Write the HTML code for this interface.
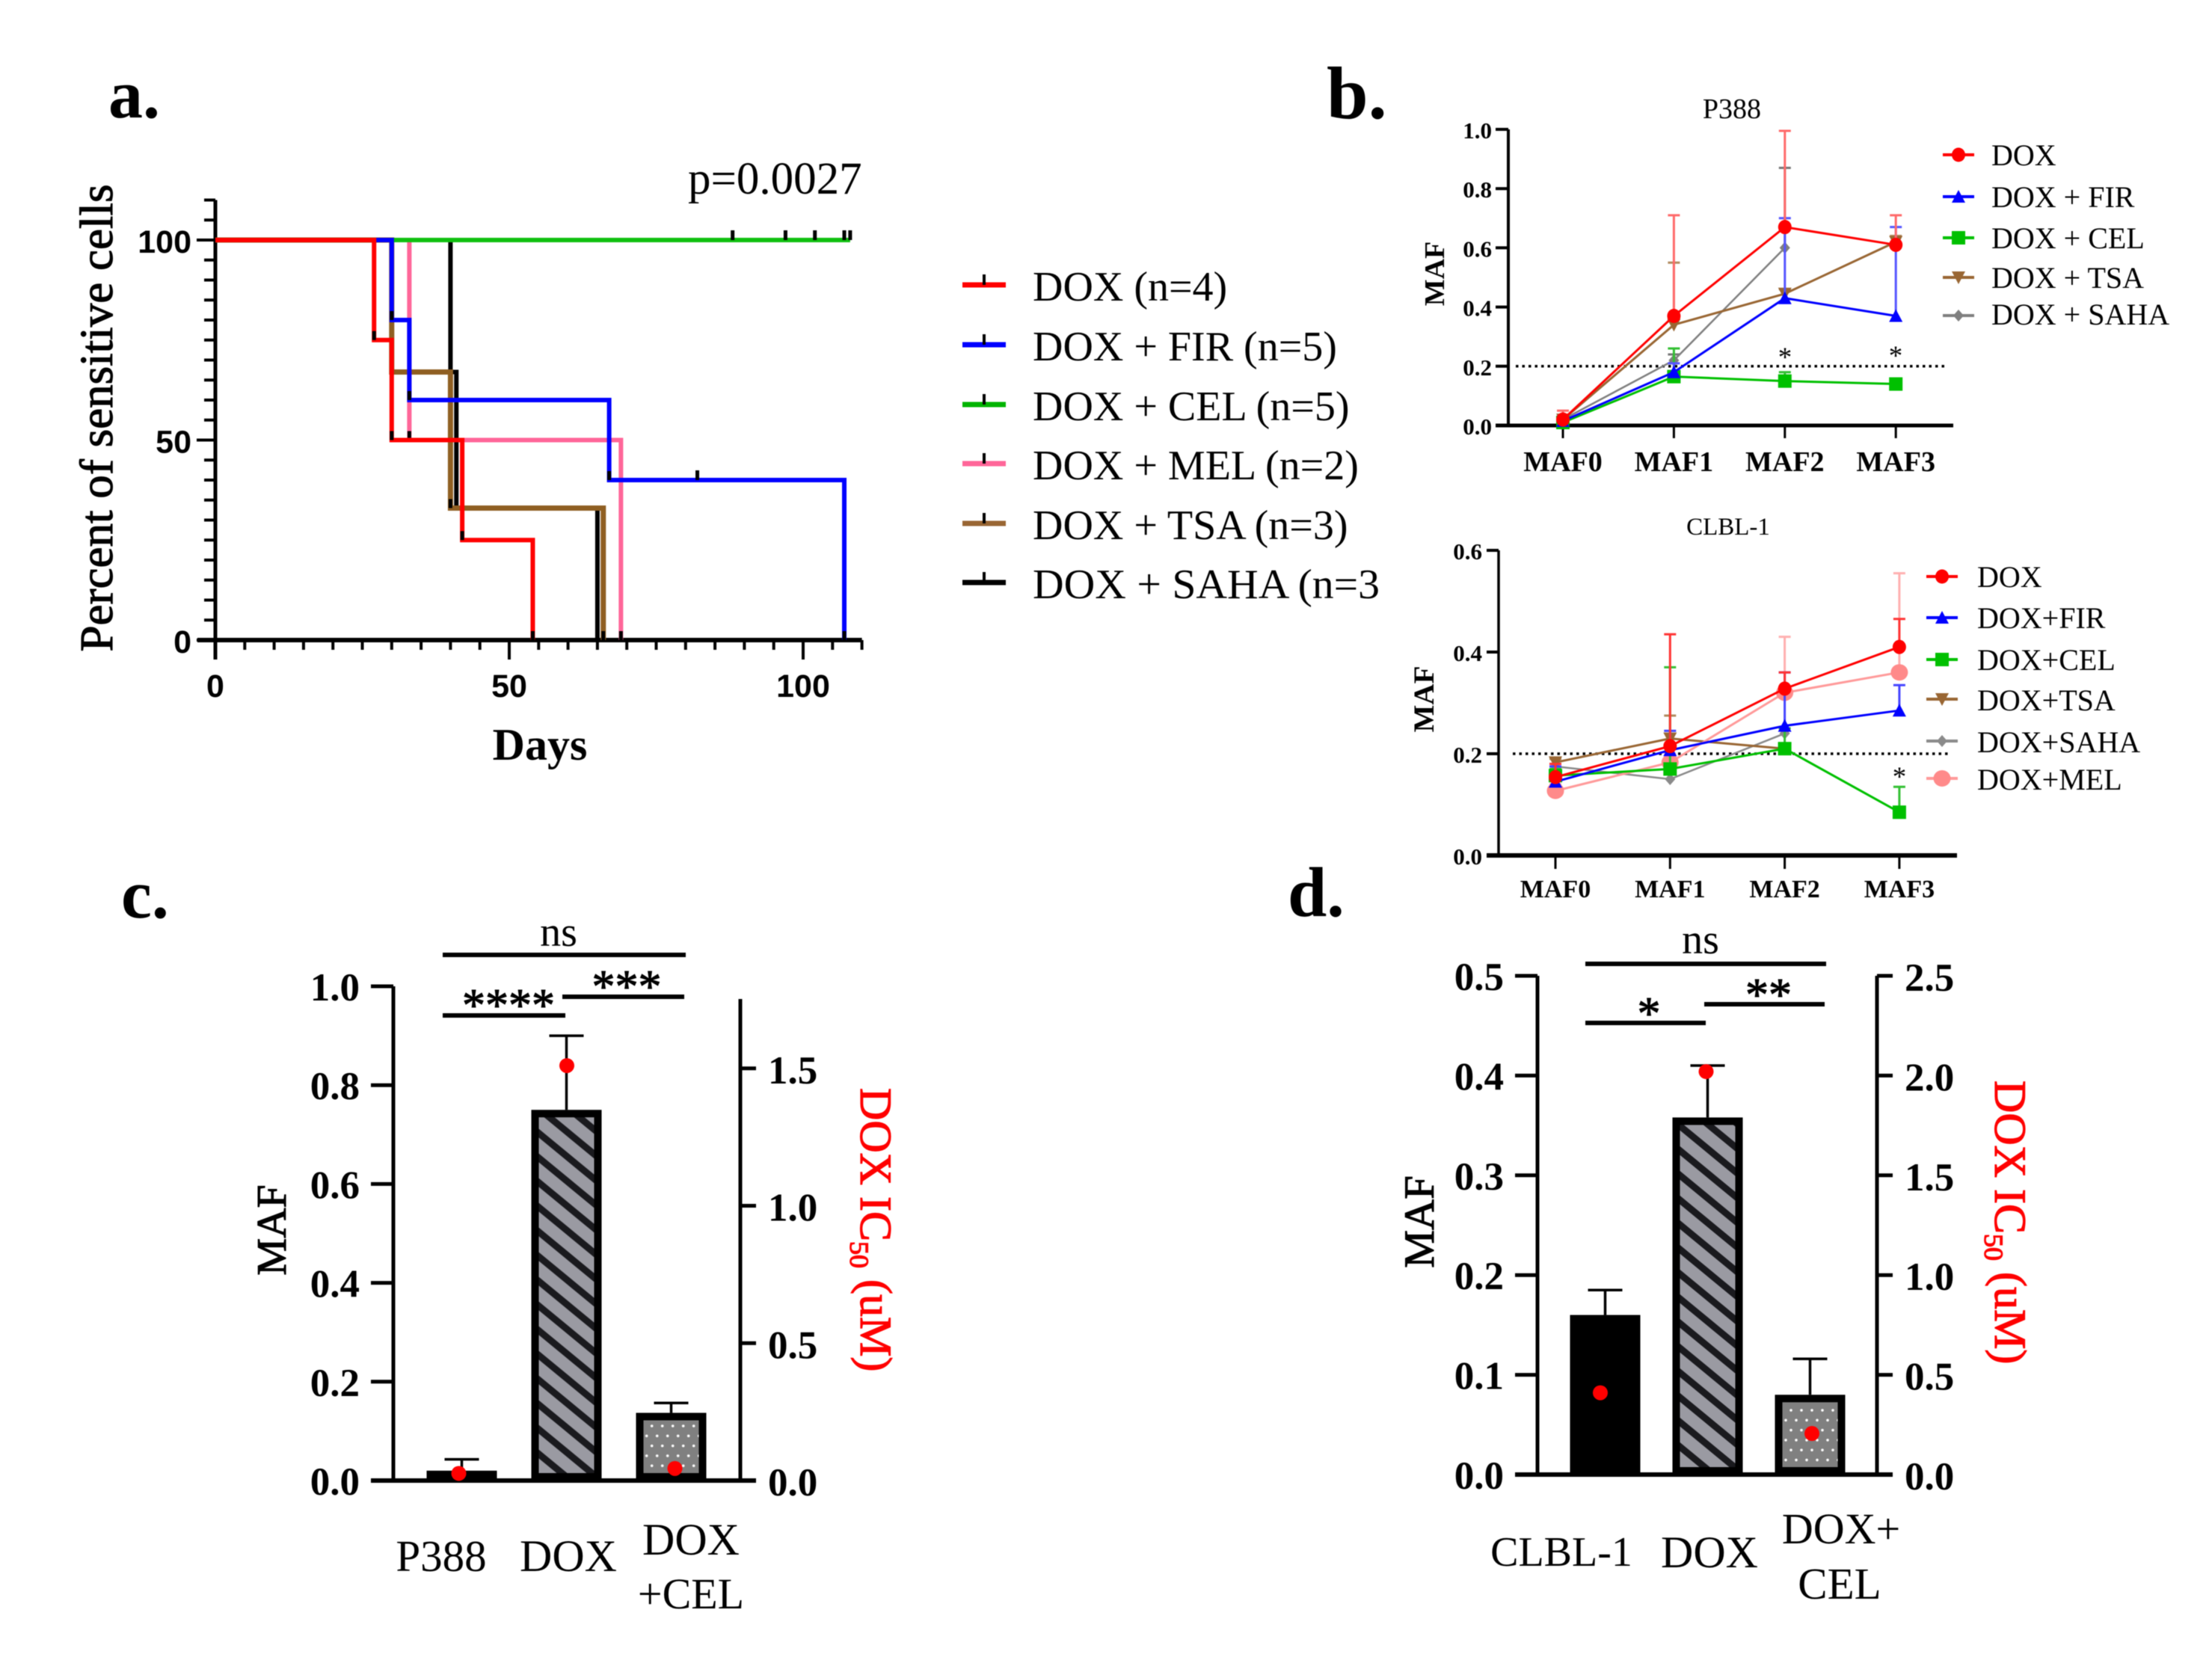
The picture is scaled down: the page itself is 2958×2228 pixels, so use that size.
<!DOCTYPE html>
<html lang="en">
<head>
<meta charset="utf-8">
<title>Multi-panel MAF chart</title>
<style>
html,body{margin:0;padding:0;background:#fff;}
svg{display:block;filter:blur(0.6px);}
text{font-family:"Liberation Serif",serif;fill:#000;}
.sans{font-family:"Liberation Sans",sans-serif;}
.b{font-weight:bold;}
.sb{stroke:#000;stroke-width:1.1px;}
.red{fill:#ff0000;stroke:#ff0000;stroke-width:1.2px;}
</style>
</head>
<body>
<svg id="fig" xmlns="http://www.w3.org/2000/svg" width="2958" height="2228" viewBox="0 0 2958 2228">
  <defs>
    <pattern id="hatchC" patternUnits="userSpaceOnUse" width="40" height="33" patternTransform="translate(722,1516.7)">
      <rect width="40" height="33" fill="#9a9aa2"/>
      <path d="M-10,-8.25 L50,41.25 M-10,24.75 L10,41.25 M30,-8.25 L50,8.25" stroke="#1a1a1e" stroke-width="9"/>
    </pattern>
    <pattern id="hatchD" patternUnits="userSpaceOnUse" width="40" height="33" patternTransform="translate(2248,1507)">
      <rect width="40" height="33" fill="#9a9aa2"/>
      <path d="M-10,-8.25 L50,41.25 M-10,24.75 L10,41.25 M30,-8.25 L50,8.25" stroke="#1a1a1e" stroke-width="9"/>
    </pattern>
    <pattern id="dotsC" patternUnits="userSpaceOnUse" width="14" height="26.6" patternTransform="translate(868.2,1903.5)">
      <rect width="14" height="26.6" fill="#808080"/>
      <circle cx="3.5" cy="3.5" r="1.8" fill="#fff"/>
      <circle cx="10.5" cy="16.8" r="1.8" fill="#fff"/>
    </pattern>
    <pattern id="dotsD" patternUnits="userSpaceOnUse" width="14" height="26.6" patternTransform="translate(2391.5,1882.5)">
      <rect width="14" height="26.6" fill="#808080"/>
      <circle cx="3.5" cy="3.5" r="1.8" fill="#fff"/>
      <circle cx="10.5" cy="16.8" r="1.8" fill="#fff"/>
    </pattern>
  </defs>
  <rect width="2958" height="2228" fill="#fff"/>

  <text class="b" x="145" y="157" font-size="92">a.</text>
  <text class="b" x="1774" y="158" font-size="100">b.</text>
  <text class="b" x="162" y="1227" font-size="92">c.</text>
  <text class="b" x="1722" y="1225" font-size="94">d.</text>

  <g id="panelA">
    <text x="920" y="259" font-size="61">p=0.0027</text>
    <text class="b" x="722" y="1016" font-size="60" text-anchor="middle">Days</text>
    <text class="sb" transform="translate(150,559) rotate(-90)" font-size="62" text-anchor="middle" textLength="625" lengthAdjust="spacingAndGlyphs">Percent of sensitive cells</text>
  </g>

  <g>
    <g>
      <line x1="1287" x2="1345" y1="381" y2="381" stroke="#ff0000" stroke-width="7"/><line x1="1316" x2="1316" y1="367" y2="381" stroke="#000" stroke-width="4"/>
      <text x="1381" y="402" font-size="56">DOX (n=4)</text>
    </g>
    <g>
      <line x1="1287" x2="1345" y1="461" y2="461" stroke="#0000ff" stroke-width="7"/><line x1="1316" x2="1316" y1="447" y2="461" stroke="#000" stroke-width="4"/>
      <text x="1381" y="482" font-size="56">DOX + FIR (n=5)</text>
    </g>
    <g>
      <line x1="1287" x2="1345" y1="541" y2="541" stroke="#00b400" stroke-width="7"/><line x1="1316" x2="1316" y1="527" y2="541" stroke="#000" stroke-width="4"/>
      <text x="1381" y="562" font-size="56">DOX + CEL (n=5)</text>
    </g>
    <g>
      <line x1="1287" x2="1345" y1="620" y2="620" stroke="#ff6699" stroke-width="7"/><line x1="1316" x2="1316" y1="606" y2="620" stroke="#000" stroke-width="4"/>
      <text x="1381" y="641" font-size="56">DOX + MEL (n=2)</text>
    </g>
    <g>
      <line x1="1287" x2="1345" y1="700" y2="700" stroke="#996633" stroke-width="7"/><line x1="1316" x2="1316" y1="686" y2="700" stroke="#000" stroke-width="4"/>
      <text x="1381" y="721" font-size="56">DOX + TSA (n=3)</text>
    </g>
    <g>
      <line x1="1287" x2="1345" y1="779" y2="779" stroke="#000" stroke-width="7"/><line x1="1316" x2="1316" y1="765" y2="779" stroke="#000" stroke-width="4"/>
      <text x="1381" y="800" font-size="56" textLength="464" lengthAdjust="spacingAndGlyphs">DOX + SAHA (n=3</text>
    </g>
  </g>

  <g id="panelB1">
    <text x="2316" y="158" font-size="38" text-anchor="middle" fill="#222">P388</text>
    <text class="b" transform="translate(1931,366) rotate(-90)" font-size="38" text-anchor="middle">MAF</text>
    <text x="2387" y="490" font-size="37" text-anchor="middle">*</text>
    <text x="2535" y="488" font-size="37" text-anchor="middle">*</text>
  </g>
  <g id="legendB1"></g>

  <g id="panelB2">
    <text x="2311" y="715" font-size="33" text-anchor="middle" fill="#222">CLBL-1</text>
    <text class="b" transform="translate(1917,935) rotate(-90)" font-size="39" text-anchor="middle">MAF</text>
    <text x="2540" y="1051" font-size="37" text-anchor="middle">*</text>
  </g>
  <g id="legendB2"></g>

  <g id="panelC">
    <text class="sb" transform="translate(382,1645) rotate(-90)" font-size="56" text-anchor="middle">MAF</text>
    <text class="red" transform="translate(1151,1455) rotate(90)" font-size="60">DOX IC<tspan dy="14" font-size="36">50</tspan><tspan dy="-14"> (uM)</tspan></text>
    <text x="590" y="2101" font-size="59" text-anchor="middle">P388</text>
    <text x="760" y="2101" font-size="60" text-anchor="middle">DOX</text>
    <text x="924" y="2079" font-size="60" text-anchor="middle">DOX</text>
    <text x="924" y="2151" font-size="58" text-anchor="middle">+CEL</text>
    <line x1="592" x2="917" y1="1277" y2="1277" stroke="#000" stroke-width="6"/>
    <text x="747" y="1265" font-size="56" text-anchor="middle">ns</text>
    <line x1="592" x2="756" y1="1358" y2="1358" stroke="#000" stroke-width="6"/>
    <text x="680" y="1365" font-size="62" text-anchor="middle" class="sb">****</text>
    <line x1="752" x2="915" y1="1333" y2="1333" stroke="#000" stroke-width="6"/>
    <text x="838" y="1340" font-size="62" text-anchor="middle" class="sb">***</text>
  </g>

  <g id="panelD">
    <text class="sb" transform="translate(1917,1634) rotate(-90)" font-size="57" text-anchor="middle">MAF</text>
    <text class="red" transform="translate(2668,1445) rotate(90)" font-size="60">DOX IC<tspan dy="14" font-size="36">50</tspan><tspan dy="-14"> (uM)</tspan></text>
    <text x="2088" y="2094" font-size="56" text-anchor="middle">CLBL-1</text>
    <text x="2286" y="2096" font-size="60" text-anchor="middle">DOX</text>
    <text x="2462" y="2064" font-size="58" text-anchor="middle">DOX+</text>
    <text x="2460" y="2138" font-size="59" text-anchor="middle">CEL</text>
    <line x1="2120" x2="2442" y1="1289" y2="1289" stroke="#000" stroke-width="6"/>
    <text x="2274" y="1275" font-size="56" text-anchor="middle">ns</text>
    <line x1="2120" x2="2281" y1="1368" y2="1368" stroke="#000" stroke-width="6"/>
    <text x="2205" y="1376" font-size="62" text-anchor="middle" class="sb">*</text>
    <line x1="2279" x2="2440" y1="1343" y2="1343" stroke="#000" stroke-width="6"/>
    <text x="2365" y="1351" font-size="62" text-anchor="middle" class="sb">**</text>
  </g>
</svg>

<script>
/* ---------- Panel a: survival data ---------- */
const survivalXLabels = [0, 50, 100];
const survivalYLabels = [0, 50, 100];
const sahaDays = [0, 40, 41, 65];
const sahaPct = [100, 67, 33, 0];
const tsaDays = [0, 30, 40, 66];
const tsaPct = [100, 67, 33, 0];
const melDays = [0, 33, 69];
const melPct = [100, 50, 0];
const celDays = [0, 108];
const celPct = [100, 100];
const firDays = [0, 30, 33, 67, 107];
const firPct = [100, 80, 60, 40, 0];
const doxDays = [0, 27, 30, 42, 54];
const doxPct = [100, 75, 50, 25, 0];
const celCensorDays = [88, 97, 102, 107, 108];
const celCensorPct = [100, 100, 100, 100, 100];
const firCensorDays = [82];
const firCensorPct = [40];

/* ---------- Panel b: P388 ---------- */
const mafCategories = ['MAF0', 'MAF1', 'MAF2', 'MAF3'];
const p388TickLabels = ['0.0', '0.2', '0.4', '0.6', '0.8', '1.0'];
const p388Dox = [0.02, 0.37, 0.67, 0.61];
const p388DoxErr = [0.05, 0.71, 0.995, 0.71];
const p388Fir = [0.015, 0.18, 0.43, 0.37];
const p388FirErr = [0.03, 0.21, 0.70, 0.67];
const p388Cel = [0.01, 0.165, 0.15, 0.14];
const p388CelErr = [0.02, 0.26, 0.18, 0.15];
const p388Tsa = [0.02, 0.34, 0.445, 0.62];
const p388TsaErr = [0.03, 0.55, 0.46, 0.64];
const p388Saha = [0.02, 0.22, 0.60, null];
const p388SahaErr = [0.03, 0.24, 0.87, null];

/* ---------- Panel b: CLBL-1 ---------- */
const clblTickLabels = ['0.0', '0.2', '0.4', '0.6'];
const clblDox = [0.154, 0.215, 0.328, 0.41];
const clblDoxErr = [0.18, 0.435, 0.36, 0.465];
const clblFir = [0.145, 0.207, 0.255, 0.285];
const clblFirErr = [0.175, 0.245, 0.36, 0.335];
const clblCel = [0.157, 0.17, 0.21, 0.085];
const clblCelErr = [0.17, 0.37, 0.25, 0.135];
const clblTsa = [0.183, 0.23, 0.21, null];
const clblTsaErr = [0.19, 0.275, 0.22, null];
const clblSaha = [0.175, 0.15, 0.24, null];
const clblSahaErr = [0.18, 0.16, 0.25, null];
const clblMel = [0.127, 0.183, 0.32, 0.36];
const clblMelErr = [0.14, 0.20, 0.43, 0.555];

/* ---------- Panel c ---------- */
const cMaf = [0.02, 0.75, 0.137];
const cMafErr = [0.043, 0.90, 0.157];
const cIc50 = [0.026, 1.51, 0.044];
const cLeftLabels = ['0.0', '0.2', '0.4', '0.6', '0.8', '1.0'];
const cRightLabels = ['0.0', '0.5', '1.0', '1.5'];

/* ---------- Panel d ---------- */
const dMaf = [0.16, 0.358, 0.08];
const dMafErr = [0.185, 0.41, 0.116];
const dIc50 = [0.41, 2.02, 0.206];
const dLeftLabels = ['0.0', '0.1', '0.2', '0.3', '0.4', '0.5'];
const dRightLabels = ['0.0', '0.5', '1.0', '1.5', '2.0', '2.5'];

const NS = 'http://www.w3.org/2000/svg';
function mk(tag, attrs, parent, txt) {
  const e = document.createElementNS(NS, tag);
  for (const k in attrs) e.setAttribute(k, attrs[k]);
  if (txt !== undefined) e.textContent = txt;
  parent.appendChild(e);
  return e;
}
function axisLine(parent, x1, y1, x2, y2, w) {
  const l = mk('line', {x1: x1, y1: y1, x2: x2, y2: y2, stroke: '#000', 'stroke-width': w}, parent);
  
  
  return l;
}
function tickMark(parent, x1, y1, x2, y2, w) {
  const l = mk('line', {x1: x1, y1: y1, x2: x2, y2: y2, stroke: '#000', 'stroke-width': w}, parent);
  
  
  return l;
}
function tickLabel(parent, x, y, s, size, anchor, cls) {
  const t = mk('text', {x: x, y: y, 'font-size': size, 'text-anchor': anchor, class: cls}, parent, s);
  
  
  return t;
}

/* ---------- draw panel a ---------- */
(function () {
  const g = document.getElementById('panelA');
  const ax = d => 288 + d * 7.86;
  const ay = p => 856 - p * 5.35;
  axisLine(g, ax(0), ay(110), ax(0), 882, 5);
  axisLine(g, 264, ay(0), ax(110), ay(0), 6);
  for (let d = 0; d <= 110; d += 5) {
    tickMark(g, ax(d), ay(0), ax(d), d % 50 === 0 ? 882 : 869, 4);
  }
  for (let p = 0; p <= 110; p += 5) {
    tickMark(g, ax(0), ay(p), p % 50 === 0 ? 263 : 273, ay(p), 4);
  }
  survivalYLabels.forEach(v => {
    tickLabel(g, 256, ay(v) + 17, String(v), 43, 'end', 'sans b');
  });
  survivalXLabels.forEach(v => {
    tickLabel(g, ax(v), 932, String(v), 43, 'middle', 'sans b');
  });
  const curves = [
    {days: sahaDays, pct: sahaPct, color: '#000000', w: 6},
    {days: tsaDays, pct: tsaPct, color: '#8f5f22', w: 7},
    {days: melDays, pct: melPct, color: '#ff6699', w: 6},
    {days: celDays, pct: celPct, color: '#10c010', w: 6},
    {days: firDays, pct: firPct, color: '#0000ff', w: 6},
    {days: doxDays, pct: doxPct, color: '#ff0000', w: 6}
  ];
  curves.forEach(c => {
    let d = 'M' + ax(c.days[0]) + ',' + ay(c.pct[0]);
    for (let i = 1; i < c.days.length; i++) {
      d += 'H' + ax(c.days[i]) + 'V' + ay(c.pct[i]);
    }
    if (c.days.length === 2 && c.pct[0] === c.pct[1]) d = 'M' + ax(c.days[0]) + ',' + ay(c.pct[0]) + 'H' + ax(c.days[1]);
    const p = mk('path', {d: d, fill: 'none', stroke: c.color, 'stroke-width': c.w}, g);
    
    
    for (let i = 1; i < c.days.length; i++) {
      if (c.pct[i] === c.pct[i - 1]) continue;
      const t = mk('line', {x1: ax(c.days[i]), x2: ax(c.days[i]), y1: ay(c.pct[i]) - 12, y2: ay(c.pct[i]), stroke: '#000', 'stroke-width': 5}, g);
      
      
    }
  });
  celCensorDays.forEach((d, i) => {
    const t = mk('line', {x1: ax(d), x2: ax(d), y1: ay(celCensorPct[i]) - 13, y2: ay(celCensorPct[i]), stroke: '#000', 'stroke-width': 5}, g);
    
    
  });
  firCensorDays.forEach((d, i) => {
    const t = mk('line', {x1: ax(d), x2: ax(d), y1: ay(firCensorPct[i]) - 13, y2: ay(firCensorPct[i]), stroke: '#000', 'stroke-width': 5}, g);
    
    
  });
})();

/* ---------- line panels ---------- */
function marker(parent, shape, x, y, color) {
  let m;
  if (shape === 'circle') m = mk('ellipse', {cx: x, cy: y, rx: 9, ry: 9.5, fill: color}, parent);
  else if (shape === 'big') m = mk('ellipse', {cx: x, cy: y, rx: 11.5, ry: 11, fill: color}, parent);
  else if (shape === 'up') m = mk('polygon', {points: (x - 9) + ',' + (y + 8) + ' ' + (x + 9) + ',' + (y + 8) + ' ' + x + ',' + (y - 9), fill: color}, parent);
  else if (shape === 'down') m = mk('polygon', {points: (x - 9) + ',' + (y - 8) + ' ' + (x + 9) + ',' + (y - 8) + ' ' + x + ',' + (y + 9), fill: color}, parent);
  else if (shape === 'square') m = mk('rect', {x: x - 9, y: y - 9, width: 18, height: 18, fill: color}, parent);
  else m = mk('polygon', {points: (x - 7) + ',' + y + ' ' + x + ',' + (y - 8) + ' ' + (x + 7) + ',' + y + ' ' + x + ',' + (y + 8), fill: color}, parent);
  
  
  return m;
}
function drawLinePanel(g, series, yFn, xFn, ticks, tickVals, opts) {
  axisLine(g, opts.axisX, yFn(opts.yMax), opts.axisX, yFn(0), opts.yAxisW);
  axisLine(g, opts.xStart, yFn(0), opts.xEnd, yFn(0), opts.xAxisW);
  ticks.forEach((s, i) => {
    tickMark(g, opts.axisX, yFn(tickVals[i]), opts.xStart, yFn(tickVals[i]), 4);
    tickLabel(g, opts.axisX - 22, yFn(tickVals[i]) + 12, s, 31, 'end', 'b');
  });
  mafCategories.forEach((c, i) => {
    tickMark(g, xFn(i), yFn(0), xFn(i), opts.tickEnd, 3);
    tickLabel(g, xFn(i), opts.catY, c, opts.catSize, 'middle', 'b');
  });
  const ref = mk('line', {x1: opts.refX1, x2: opts.refX2, y1: yFn(0.2), y2: yFn(0.2), stroke: '#000', 'stroke-width': 3.5, 'stroke-dasharray': '3.5 5'}, g);
  
  
  series.forEach(s => {
    s.err.forEach((e, i) => {
      if (e === null) return;
      const col = mk('g', {stroke: s.errColor, 'stroke-width': 3}, g);
      
      
      mk('line', {x1: xFn(i), x2: xFn(i), y1: yFn(s.vals[i]), y2: yFn(e)}, col);
      mk('line', {x1: xFn(i) - 8, x2: xFn(i) + 8, y1: yFn(e), y2: yFn(e)}, col);
    });
    const pts = [];
    s.vals.forEach((v, i) => { if (v !== null) pts.push(xFn(i) + ',' + yFn(v)); });
    const pl = mk('polyline', {points: pts.join(' '), fill: 'none', stroke: s.color, 'stroke-width': s.w}, g);
    
    
    s.vals.forEach((v, i) => {
      if (v !== null) marker(g, s.shape, xFn(i), yFn(v), s.markColor || s.color);
    });
  });
}
function drawLegend(g, items, mx, tx, ys, bases, size) {
  items.forEach((it, i) => {
    const row = mk('g', {}, g);
    
    
    mk('line', {x1: mx - 21, x2: mx + 21, y1: ys[i], y2: ys[i], stroke: it.color, 'stroke-width': 4}, row);
    marker(row, it.shape, mx, ys[i], it.markColor || it.color);
    mk('text', {x: tx, y: bases[i], 'font-size': size, fill: '#222'}, row, it.label);
  });
}

const p388Series = [
  {label: 'DOX + SAHA', vals: p388Saha, err: p388SahaErr, color: '#7f7f7f', errColor: '#777', shape: 'diamond', w: 2.5},
  {label: 'DOX + TSA', vals: p388Tsa, err: p388TsaErr, color: '#996633', errColor: '#b08a5e', shape: 'down', w: 3},
  {label: 'DOX + CEL', vals: p388Cel, err: p388CelErr, color: '#00c000', errColor: '#33c033', shape: 'square', w: 3},
  {label: 'DOX + FIR', vals: p388Fir, err: p388FirErr, color: '#0000ff', errColor: '#5555ff', shape: 'up', w: 3},
  {label: 'DOX', vals: p388Dox, err: p388DoxErr, color: '#ff0000', errColor: '#ff6a6a', shape: 'circle', w: 3}
];
const clblSeries = [
  {label: 'DOX+SAHA', vals: clblSaha, err: clblSahaErr, color: '#8a8a8a', errColor: '#999', shape: 'diamond', w: 2.5},
  {label: 'DOX+TSA', vals: clblTsa, err: clblTsaErr, color: '#996633', errColor: '#b08a5e', shape: 'down', w: 3},
  {label: 'DOX+MEL', vals: clblMel, err: clblMelErr, color: '#ff9a9a', errColor: '#ffb0b0', markColor: '#ff8a8a', shape: 'big', w: 3},
  {label: 'DOX+CEL', vals: clblCel, err: clblCelErr, color: '#00c000', errColor: '#33c033', shape: 'square', w: 3},
  {label: 'DOX+FIR', vals: clblFir, err: clblFirErr, color: '#0000ff', errColor: '#4444ff', shape: 'up', w: 3},
  {label: 'DOX', vals: clblDox, err: clblDoxErr, color: '#ff0000', errColor: '#ff3333', shape: 'circle', w: 3}
];

(function () {
  const g1 = document.getElementById('panelB1');
  const y1 = v => 569 - v * 396;
  const x1 = i => 2090 + i * 148.4;
  drawLinePanel(g1, p388Series, y1, x1, p388TickLabels, [0, 0.2, 0.4, 0.6, 0.8, 1],
    {axisX: 2017, yMax: 1, xStart: 2000, xEnd: 2612, tickEnd: 586, catY: 630, catSize: 38, refX1: 2027, refX2: 2600, yAxisW: 4, xAxisW: 5});
  drawLegend(document.getElementById('legendB1'),
    [p388Series[4], p388Series[3], p388Series[2], p388Series[1], p388Series[0]],
    2619, 2663, [207, 263, 318, 371, 422], [221, 277, 332, 385, 434], 40);

  const g2 = document.getElementById('panelB2');
  const y2 = v => 1144 - v * 680;
  const x2 = i => 2080 + i * 153.3;
  drawLinePanel(g2, clblSeries, y2, x2, clblTickLabels, [0, 0.2, 0.4, 0.6],
    {axisX: 2004, yMax: 0.6, xStart: 1988, xEnd: 2617, tickEnd: 1162, catY: 1200, catSize: 34, refX1: 2023, refX2: 2606, yAxisW: 3.5, xAxisW: 6});
  drawLegend(document.getElementById('legendB2'),
    [clblSeries[5], clblSeries[4], clblSeries[3], clblSeries[1], clblSeries[0], clblSeries[2]],
    2597, 2644, [771, 826, 882, 935, 991, 1041], [785, 840, 896, 950, 1006, 1056], 40);
})();

/* ---------- bar panels ---------- */
function drawBarPanel(g, maf, err, ic50, leftLabels, rightLabels, o) {
  const yL = v => o.y0 - v * o.leftScale;
  const yR = v => o.y0 - v * o.rightScale;
  axisLine(g, o.axisL, yL(o.leftMax), o.axisL, o.y0, 5);
  axisLine(g, o.axisR, o.rightTop, o.axisR, o.y0, 5);
  axisLine(g, o.axisL - 30, o.y0, o.axisR + 21, o.y0, 6);
  leftLabels.forEach(s => {
    const v = parseFloat(s);
    tickMark(g, o.axisL - 30, yL(v), o.axisL, yL(v), 5);
    tickLabel(g, o.axisL - 45, yL(v) + 19, s, 53, 'end', 'b');
  });
  rightLabels.forEach(s => {
    const v = parseFloat(s);
    tickMark(g, o.axisR, yR(v), o.axisR + 21, yR(v), 5);
    tickLabel(g, o.axisR + 37, yR(v) + 20, s, 53, 'start', 'b');
  });
  maf.forEach((v, i) => {
    const cx = o.barX(i);
    const eb = mk('g', {stroke: '#000', 'stroke-width': 3.5}, g);
    
    
    mk('line', {x1: cx, x2: cx, y1: yL(v), y2: yL(err[i])}, eb);
    mk('line', {x1: cx - 23, x2: cx + 23, y1: yL(err[i]), y2: yL(err[i])}, eb);
    const r = mk('rect', {x: cx - 42, y: yL(v) + 5, width: 84, height: Math.max(o.y0 - yL(v) - 10, 1), fill: o.fills[i], stroke: '#000', 'stroke-width': 10}, g);
    
    
  });
  ic50.forEach((v, i) => {
    const c = mk('circle', {cx: o.dotX(i), cy: yR(v), r: 10, fill: '#ff0000'}, g);
    
    
  });
}
drawBarPanel(document.getElementById('panelC'), cMaf, cMafErr, cIc50, cLeftLabels, cRightLabels, {
  y0: 1980, leftScale: 661, rightScale: 367.5, leftMax: 1, axisL: 526, axisR: 990, rightTop: 1336,
  fills: ['#000', 'url(#hatchC)', 'url(#dotsC)'],
  barX: i => 617.5 + i * 140, dotX: i => 613.5 + i * 144.5
});
drawBarPanel(document.getElementById('panelD'), dMaf, dMafErr, dIc50, dLeftLabels, dRightLabels, {
  y0: 1972, leftScale: 1334, rightScale: 266.8, leftMax: 0.5, axisL: 2056, axisR: 2510, rightTop: 1305,
  fills: ['#000', 'url(#hatchD)', 'url(#dotsD)'],
  barX: i => 2146.5 + i * 137, dotX: i => 2140 + i * 141.5
});
</script>
</body>
</html>
